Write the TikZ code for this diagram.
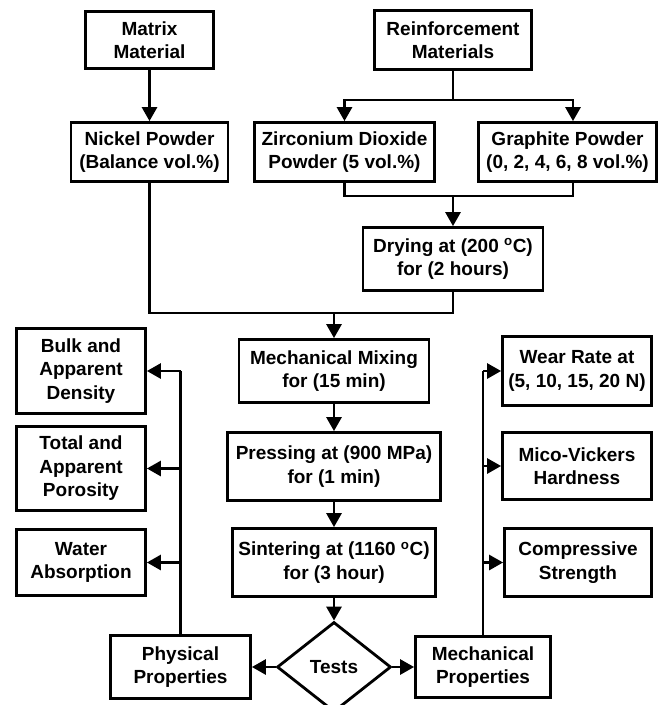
\documentclass[tikz,border=0pt]{standalone}
\usepackage{fontspec}
\setmainfont{Liberation Sans}
\usetikzlibrary{arrows.meta,shapes.geometric,calc}
\begin{document}
\begin{tikzpicture}[x=1pt,y=-1pt,line width=2.8pt,
  box/.style={draw,rectangle,align=center,inner sep=0pt,
    font=\fontsize{19}{23.5}\selectfont\bfseries},
  dia/.style={draw,diamond,aspect=1.3,inner sep=0pt,
    font=\fontsize{19}{23.5}\selectfont\bfseries},
  arr/.style={-{Triangle[length=14pt,width=15pt]}},
  ln/.style={line join=miter}]
\useasboundingbox (0,0) rectangle (660,705);
\begin{scope}
\clip (0,0) rectangle (660,705);
% boxes
\node[box,minimum width=128,minimum height=57] (matrix) at (149.5,40) {Matrix\\Material};
\node[box,minimum width=157,minimum height=59] (reinf) at (453,40) {Reinforcement\\Materials};
\node[box,minimum width=157,minimum height=59] (nickel) at (149.5,152) {Nickel Powder\\(Balance vol.\%)};
\node[box,minimum width=180,minimum height=59] (zirc) at (344.5,152) {Zirconium Dioxide\\Powder (5 vol.\%)};
\node[box,minimum width=178,minimum height=59] (graph) at (567.5,152) {Graphite Powder\\(0, 2, 4, 6, 8 vol.\%)};
\node[box,minimum width=180,minimum height=63] (drying) at (453,259) {Drying at (200 \textsuperscript{o}C)\\for (2 hours)};
\node[box,minimum width=190,minimum height=63] (mixing) at (334,371) {Mechanical Mixing\\for (15 min)};
\node[box,minimum width=213,minimum height=68] (pressing) at (334,466.5) {Pressing at (900 MPa)\\for (1 min)};
\node[box,minimum width=203,minimum height=68] (sinter) at (334,562.5) {Sintering at (1160 \textsuperscript{o}C)\\for (3 hour)};
\node[dia,minimum width=114,minimum height=90] (tests) at (334,667) {Tests};
\node[box,minimum width=140,minimum height=63] (phys) at (180.5,667) {Physical\\Properties};
\node[box,minimum width=135,minimum height=61] (mech) at (483,667) {Mechanical\\Properties};
\node[box,minimum width=129,minimum height=85] (bulk) at (81,371) {Bulk and\\Apparent\\Density};
\node[box,minimum width=129,minimum height=84] (poros) at (81,468.5) {Total and\\Apparent\\Porosity};
\node[box,minimum width=129,minimum height=66] (water) at (81,562.5) {Water\\Absorption};
\node[box,minimum width=149,minimum height=69] (wear) at (577,371) {Wear Rate at\\(5, 10, 15, 20 N)};
\node[box,minimum width=149,minimum height=67] (vick) at (577,466) {Mico-Vickers\\Hardness};
\node[box,minimum width=147,minimum height=68] (comp) at (578,562.5) {Compressive\\Strength};
% junction coordinates
\coordinate (rj) at (453,100);
\coordinate (gxt) at ([xshift=5.5pt]graph.north);
\coordinate (gxb) at ([xshift=5.5pt]graph.south);
\coordinate (dj) at (453,196);
\coordinate (mj) at (334,313);
% connectors
\draw[arr] (matrix.south) -- (nickel.north);
\draw (reinf.south) -- (rj);
\draw[arr,ln] (rj) -| (zirc.north);
\draw[arr,ln] (rj) -| (gxt);
\draw[ln] (zirc.south) |- (dj) -| (gxb);
\draw[arr] (dj) -- (drying.north);
\draw[ln] (nickel.south) |- (mj) -| (drying.south);
\draw[arr] (mj) -- (mixing.north);
\draw[arr] (mixing.south) -- (pressing.north);
\draw[arr] (pressing.south) -- (sinter.north);
\draw[arr] (sinter.south) -- (tests.north);
\draw[arr] (tests.west) -- (phys.east);
\draw[arr] (tests.east) -- (mech.west);
\draw (phys.north) -- (phys.north |- bulk.east);
\draw[arr] (phys.north |- bulk.east) -- (bulk.east);
\draw[arr] (phys.north |- poros.east) -- (poros.east);
\draw[arr] (phys.north |- water.east) -- (water.east);
\draw (mech.north) -- (mech.north |- wear.west);
\draw[arr] (mech.north |- wear.west) -- (wear.west);
\draw[arr] (mech.north |- vick.west) -- (vick.west);
\draw[arr] (mech.north |- comp.west) -- (comp.west);
\end{scope}
\end{tikzpicture}
\end{document}
